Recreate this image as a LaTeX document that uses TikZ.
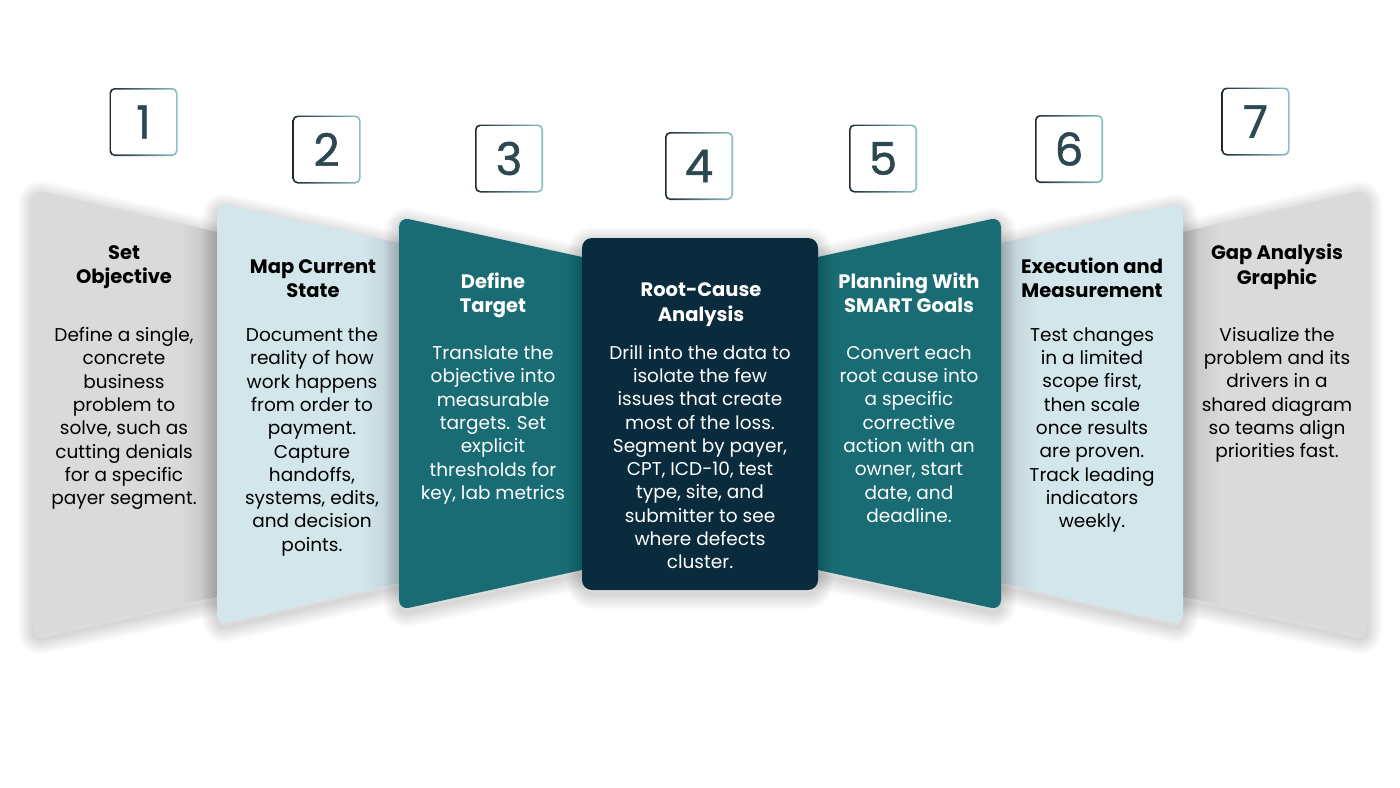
\documentclass[tikz,border=0pt]{standalone}
\usepackage{fontspec}
\setmainfont{Poppins}
\newfontfamily\numfont{Poppins}[FakeBold=1.2]

\definecolor{panelgray}{HTML}{DADADA}
\definecolor{panelblue}{HTML}{D3E6EC}
\definecolor{panelteal}{HTML}{196C74}
\definecolor{panelnavy}{HTML}{0A2B3E}
\definecolor{numdark}{HTML}{1C2A30}
\definecolor{numlight}{HTML}{8CC3C9}
\definecolor{numtext}{HTML}{2C4851}

% soft shadow made of wide faint strokes
\newcommand{\softshadow}[1]{%
    \foreach \w in {3,6,...,30} {\draw[black, opacity=0.014, line width=\w pt, line join=round, rounded corners=10pt, transform canvas={yshift=-4pt}] #1;}}

\tikzset{
    title/.style={font=\bfseries\fontsize{19.5}{24.5}\selectfont, align=center, inner sep=0pt},
    body/.style={font=\fontsize{18.5}{23.3}\selectfont, align=center, inner sep=0pt},
    panel/.style={rounded corners=10pt},
    numbox/.style={minimum size=68pt, inner sep=0pt, rounded corners=5pt, left color=numdark, right color=numlight,
        path picture={\fill[white, rounded corners=4pt] ([shift={(1.6pt,-1.6pt)}]path picture bounding box.north west) rectangle ([shift={(-1.6pt,1.6pt)}]path picture bounding box.south east);},
        font=\numfont\fontsize{45}{45}\selectfont, text=numtext}
}

\begin{document}
\begin{tikzpicture}[x=1pt, y=-1pt]
    \fill[white] (0,0) rectangle (1400,787);
    \useasboundingbox (0,0) rectangle (1400,787);

    % panels, back to front
    \softshadow{(33,190) -- (229,234.7) -- (229,594.4) -- (33,637) -- cycle}
    \fill[panelgray, panel] (33,190) -- (229,234.7) -- (229,594.4) -- (33,637) -- cycle;
    \shade[left color=panelgray, right color=panelgray!84!black] (180,223.6) -- (229,234.7) -- (229,594.4) -- (180,605) -- cycle;
    \softshadow{(1367,190) -- (1171,234.7) -- (1171,594.4) -- (1367,637) -- cycle}
    \fill[panelgray, panel] (1367,190) -- (1171,234.7) -- (1171,594.4) -- (1367,637) -- cycle;
    \shade[right color=panelgray, left color=panelgray!84!black] (1220,223.6) -- (1171,234.7) -- (1171,594.4) -- (1220,605) -- cycle;

    \softshadow{(217,203) -- (411,245.7) -- (411,580.2) -- (217,625) -- cycle}
    \fill[panelblue, panel] (217,203) -- (411,245.7) -- (411,580.2) -- (217,625) -- cycle;
    \shade[left color=panelblue, right color=panelblue!86!black] (362,234.9) -- (411,245.7) -- (411,580.2) -- (362,591.5) -- cycle;
    \softshadow{(1183,203) -- (989,245.7) -- (989,580.2) -- (1183,625) -- cycle}
    \fill[panelblue, panel] (1183,203) -- (989,245.7) -- (989,580.2) -- (1183,625) -- cycle;
    \shade[right color=panelblue, left color=panelblue!86!black] (1038,234.9) -- (989,245.7) -- (989,580.2) -- (1038,591.5) -- cycle;

    \softshadow{(399,217) -- (594,259.6) -- (594,567.4) -- (399,610) -- cycle}
    \fill[panelteal, panel] (399,217) -- (594,259.6) -- (594,567.4) -- (399,610) -- cycle;
    \softshadow{(1001,217) -- (806,259.6) -- (806,567.4) -- (1001,610) -- cycle}
    \fill[panelteal, panel] (1001,217) -- (806,259.6) -- (806,567.4) -- (1001,610) -- cycle;

    \softshadow{(582,238) rectangle (818,590)}
    \fill[panelnavy, panel] (582,238) rectangle (818,590);

    % numbers
    \node[numbox] (n1) at (143.5,122) {1};
    \node[numbox] (n2) at (326.5,149.5) {2};
    \node[numbox] (n3) at (509,158.5) {3};
    \node[numbox] (n4) at (699,166) {4};
    \node[numbox] (n5) at (883,158.5) {5};
    \node[numbox] (n6) at (1069,149) {6};
    \node[numbox] (n7) at (1255.5,121.5) {7};

    % titles
    \node[title] (t1) at (124,267) {Set\\Objective};
    \node[title] (t2) at (313,278.5) {Map Current\\State};
    \node[title, white] (t3) at (493,295.5) {Define\\Target};
    \node[title, white] (t4) at (701,304.5) {Root-Cause\\Analysis};
    \node[title, white] (t5) at (909,293) {Planning With\\SMART Goals};
    \node[title] (t6) at (1092,278) {Execution and\\Measurement};
    \node[title] (t7) at (1277,267) {Gap Analysis\\Graphic};

    % texts
    \node[body] (b1) at (124,418.5) {Define a single,\\concrete\\business\\problem to\\solve, such as\\cutting denials\\for a specific\\payer segment.};
    \node[body] (b2) at (312,442) {Document the\\reality of how\\work happens\\from order to\\payment.\\Capture\\handoffs,\\systems, edits,\\and decision\\points.};
    \node[body, white] (b3) at (493,425) {Translate the\\objective into\\measurable\\targets. Set\\explicit\\thresholds for\\key, lab metrics};
    \node[body, white] (b4) at (700,457) {Drill into the data to\\isolate the few\\issues that create\\most of the loss.\\Segment by payer,\\CPT, ICD-10, test\\type, site, and\\submitter to see\\where defects\\cluster.};
    \node[body, white] (b5) at (909,434) {Convert each\\root cause into\\a specific\\corrective\\action with an\\owner, start\\date, and\\deadline.};
    \node[body] (b6) at (1092,430) {Test changes\\in a limited\\scope first,\\then scale\\once results\\are proven.\\Track leading\\indicators\\weekly.};
    \node[body] (b7) at (1277,395) {Visualize the\\problem and its\\drivers in a\\shared diagram\\so teams align\\priorities fast.};
\end{tikzpicture}
\end{document}
